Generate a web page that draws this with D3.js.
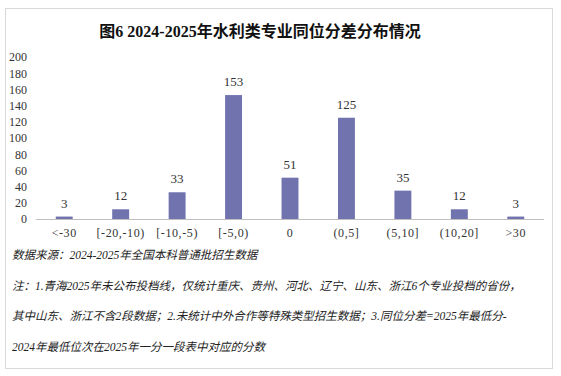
<!DOCTYPE html>
<html><head><meta charset="utf-8">
<script src="https://cdn.jsdelivr.net/npm/d3@7"></script>
<style>
html,body{margin:0;padding:0;background:#fff;}
svg{display:block;}
</style></head>
<body>
<script>
const categories = ["<-30", "[-20,-10)", "[-10,-5)", "[-5,0)", "0", "(0,5]", "(5,10]", "(10,20]", ">30"];
const values = [3, 12, 33, 153, 51, 125, 35, 12, 3];
const yTicks = [0, 20, 40, 60, 80, 100, 120, 140, 160, 180, 200];
const title = "图6  2024-2025年水利类专业同位分差分布情况";
const notes = [
  "数据来源：2024-2025年全国本科普通批招生数据",
  "注：1.青海2025年未公布投档线，仅统计重庆、贵州、河北、辽宁、山东、浙江6个专业投档的省份，",
  "其中山东、浙江不含2段数据；2.未统计中外合作等特殊类型招生数据；3.同位分差=2025年最低分-",
  "2024年最低位次在2025年一分一段表中对应的分数"
];

const W = 561, H = 376;
const font = "'Liberation Serif','Noto Sans CJK SC',serif";
const svg = d3.select("body").append("svg").attr("width", W).attr("height", H);

svg.append("rect").attr("x", 5.5).attr("y", 8.5).attr("width", 547).attr("height", 360)
  .attr("fill", "#fff").attr("stroke", "#d9d9d9").attr("stroke-width", 1);

svg.append("text").attr("x", 260).attr("y", 37).attr("text-anchor", "middle")
  .attr("font-family", font).attr("font-weight", "bold").attr("font-size", 16)
  .attr("fill", "#111").text(title);

const x = d3.scaleBand().domain(categories).range([36, 544]).paddingInner(0.7).paddingOuter(0.35);
const y = d3.scaleLinear().domain([0, 200]).range([219, 57]);

const yAxis = d3.axisLeft(y).tickValues(yTicks).tickSize(0).tickPadding(0);
const gy = svg.append("g").attr("transform", "translate(27,0)").call(yAxis);
gy.select(".domain").remove();
gy.selectAll("text").attr("font-family", font).attr("font-size", 12).attr("fill", "#333");

svg.append("g").selectAll("rect").data(values).join("rect")
  .attr("x", (d, i) => x(categories[i]))
  .attr("y", d => y(d))
  .attr("width", x.bandwidth())
  .attr("height", d => y(0) - y(d))
  .attr("fill", "#7173AE");

svg.append("g").selectAll("text").data(values).join("text")
  .attr("x", (d, i) => x(categories[i]) + x.bandwidth() / 2)
  .attr("y", d => y(d) - 9)
  .attr("text-anchor", "middle")
  .attr("font-family", font).attr("font-size", 13).attr("fill", "#333")
  .text(d => d);

const xAxis = d3.axisBottom(x).tickSize(0).tickPadding(9);
const gx = svg.append("g").attr("transform", `translate(0,${y(0)})`).call(xAxis);
gx.select(".domain").attr("stroke", "#bfbfbf").attr("d", "M36,0.5H544");
gx.selectAll("text").attr("font-family", font).attr("font-size", 12).attr("fill", "#333")
  .attr("letter-spacing", "0.6px");

const noteY = [259, 290, 320, 351];
svg.append("g").selectAll("text").data(notes).join("text")
  .attr("x", 12).attr("y", (d, i) => noteY[i])
  .attr("font-family", font).attr("font-style", "italic").attr("font-size", 11.5)
  .attr("fill", "#222").text(d => d);
</script>
</body></html>
